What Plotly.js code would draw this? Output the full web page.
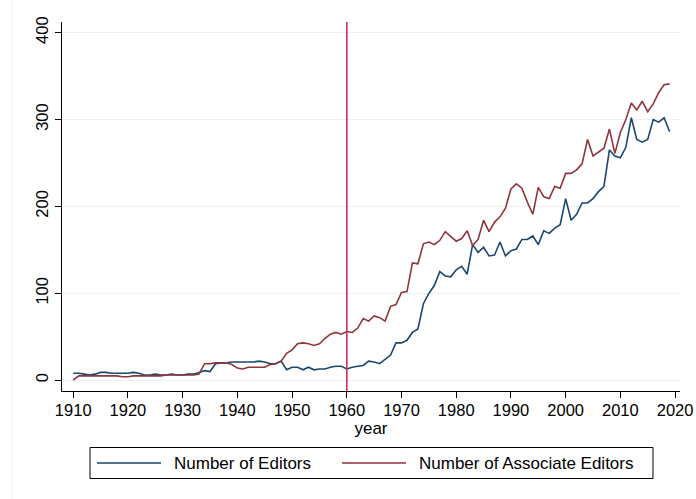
<!DOCTYPE html>
<html>
<head>
<meta charset="utf-8">
<script src="https://cdn.plot.ly/plotly-3.0.1.min.js"></script>
<style>html,body{margin:0;padding:0;background:#fff;}#chart{width:696px;height:499px;}</style>
</head>
<body>
<div id="chart"></div>
<script>
const years = [];
for (let y = 1910; y <= 2019; y++) years.push(y);

const editors = [
  8, 8, 7, 6, 7, 9, 9, 8, 8, 8,
  8, 9, 8, 6, 6, 7, 6, 6, 7, 6,
  6, 7, 7, 9, 11, 10, 19, 20, 20, 21,
  21, 21, 21, 21, 22, 21, 19, 19, 22, 12,
  15, 15, 12, 15, 12, 13, 13, 15, 16, 16,
  13, 15, 16, 17, 22, 21, 19, 24, 29, 43,
  43, 46, 55, 59, 88, 100, 109, 125, 120, 119,
  127, 131, 122, 156, 147, 153, 143, 144, 159, 143,
  149, 151, 162, 162, 166, 156, 172, 169, 175, 179,
  209, 184, 191, 204, 204, 209, 217, 223, 265, 258,
  256, 268, 302, 277, 274, 277, 300, 297, 302, 286
];

const associateEditors = [
  0, 5, 5, 5, 5, 5, 5, 5, 5, 4,
  4, 5, 5, 5, 5, 5, 5, 6, 6, 6,
  6, 6, 6, 7, 19, 19, 20, 20, 20, 18,
  14, 13, 15, 15, 15, 15, 18, 19, 22, 31,
  35, 42, 43, 42, 40, 42, 48, 53, 55, 53,
  56, 55, 60, 71, 68, 74, 72, 68, 85, 87,
  101, 102, 135, 134, 157, 159, 156, 161, 171, 165,
  160, 163, 172, 155, 162, 184, 171, 182, 188, 198,
  220, 226, 221, 205, 191, 222, 211, 209, 223, 221,
  238, 238, 242, 249, 277, 258, 263, 267, 289, 261,
  285, 300, 319, 311, 321, 309, 318, 331, 340, 341
];

const seriesNames = ["Number of Editors", "Number of Associate Editors"];
const xTicks = [1910, 1920, 1930, 1940, 1950, 1960, 1970, 1980, 1990, 2000, 2010, 2020];
const yTicks = [0, 100, 200, 300, 400];
const markerYear = 1960;

const colors = ["#1a476f", "#90353b"];
const vlineColor = "#d02c55";
const FONT = "Liberation Sans, Arial, Helvetica, sans-serif";

// pixel geometry of plot area
const L = 62, R = 680, T = 22, B = 391, W = 696, H = 499;
const PW = R - L, PH = B - T;
const px = x => (x - L) / PW;
const py = y => (B - y) / PH;

const traces = [
  {x: years, y: editors, name: seriesNames[0], type: "scatter", mode: "lines",
   line: {color: colors[0], width: 1.6}, showlegend: false},
  {x: years, y: associateEditors, name: seriesNames[1], type: "scatter", mode: "lines",
   line: {color: colors[1], width: 1.6}, showlegend: false}
];

const legTop = 447.5, legBot = 478.5, legLeft = 90, legRight = 653, legMid = 463;

const layout = {
  width: W, height: H,
  margin: {l: L, r: W - R, t: T, b: H - B, pad: 0},
  paper_bgcolor: "#ffffff", plot_bgcolor: "#ffffff",
  font: {family: FONT, size: 17, color: "#000"},
  showlegend: false,
  xaxis: {
    range: [1907.95, 2020.9],
    tickvals: xTicks, ticktext: xTicks.map(String),
    showgrid: false, zeroline: false,
    showline: true, linecolor: "#000", linewidth: 1,
    ticks: "outside", ticklen: 6, tickcolor: "#000", tickwidth: 1,
    ticklabelstandoff: -2,
    tickfont: {family: FONT, size: 16.5, color: "#000"},
    title: {text: "year", font: {family: FONT, size: 17, color: "#000"}, standoff: 0}
  },
  yaxis: {
    range: [-12.4, 412.2],
    tickvals: yTicks, ticktext: yTicks.map(String),
    showgrid: true, gridcolor: "#eaf2f3", gridwidth: 1,
    zeroline: false,
    showline: true, linecolor: "#000", linewidth: 1,
    ticks: "outside", ticklen: 6, tickcolor: "#000", tickwidth: 1,
    tickangle: -90,
    tickfont: {family: FONT, size: 16.5, color: "#000"}
  },
  shapes: [
    {type: "line", xref: "x", yref: "paper", x0: markerYear, x1: markerYear, y0: 0, y1: 1,
     line: {color: vlineColor, width: 1.6}},
    {type: "line", xref: "paper", yref: "paper", x0: px(12), x1: px(12), y0: py(H), y1: py(0),
     line: {color: "#eef2f4", width: 1}},
    {type: "rect", xref: "paper", yref: "paper", x0: px(legLeft), x1: px(legRight), y0: py(legBot), y1: py(legTop),
     line: {color: "#000", width: 1}, fillcolor: "rgba(0,0,0,0)"},
    {type: "line", xref: "paper", yref: "paper", x0: px(97), x1: px(161), y0: py(legMid), y1: py(legMid),
     line: {color: colors[0], width: 1.6}},
    {type: "line", xref: "paper", yref: "paper", x0: px(342), x1: px(406), y0: py(legMid), y1: py(legMid),
     line: {color: colors[1], width: 1.6}}
  ],
  annotations: [
    {xref: "paper", yref: "paper", x: px(172), y: py(legMid), xanchor: "left", yanchor: "middle",
     text: seriesNames[0], showarrow: false, font: {family: FONT, size: 17, color: "#000"}},
    {xref: "paper", yref: "paper", x: px(417), y: py(legMid), xanchor: "left", yanchor: "middle",
     text: seriesNames[1], showarrow: false, font: {family: FONT, size: 17, color: "#000"}}
  ]
};

Plotly.newPlot("chart", traces, layout, {staticPlot: true, displayModeBar: false});
</script>
</body>
</html>
